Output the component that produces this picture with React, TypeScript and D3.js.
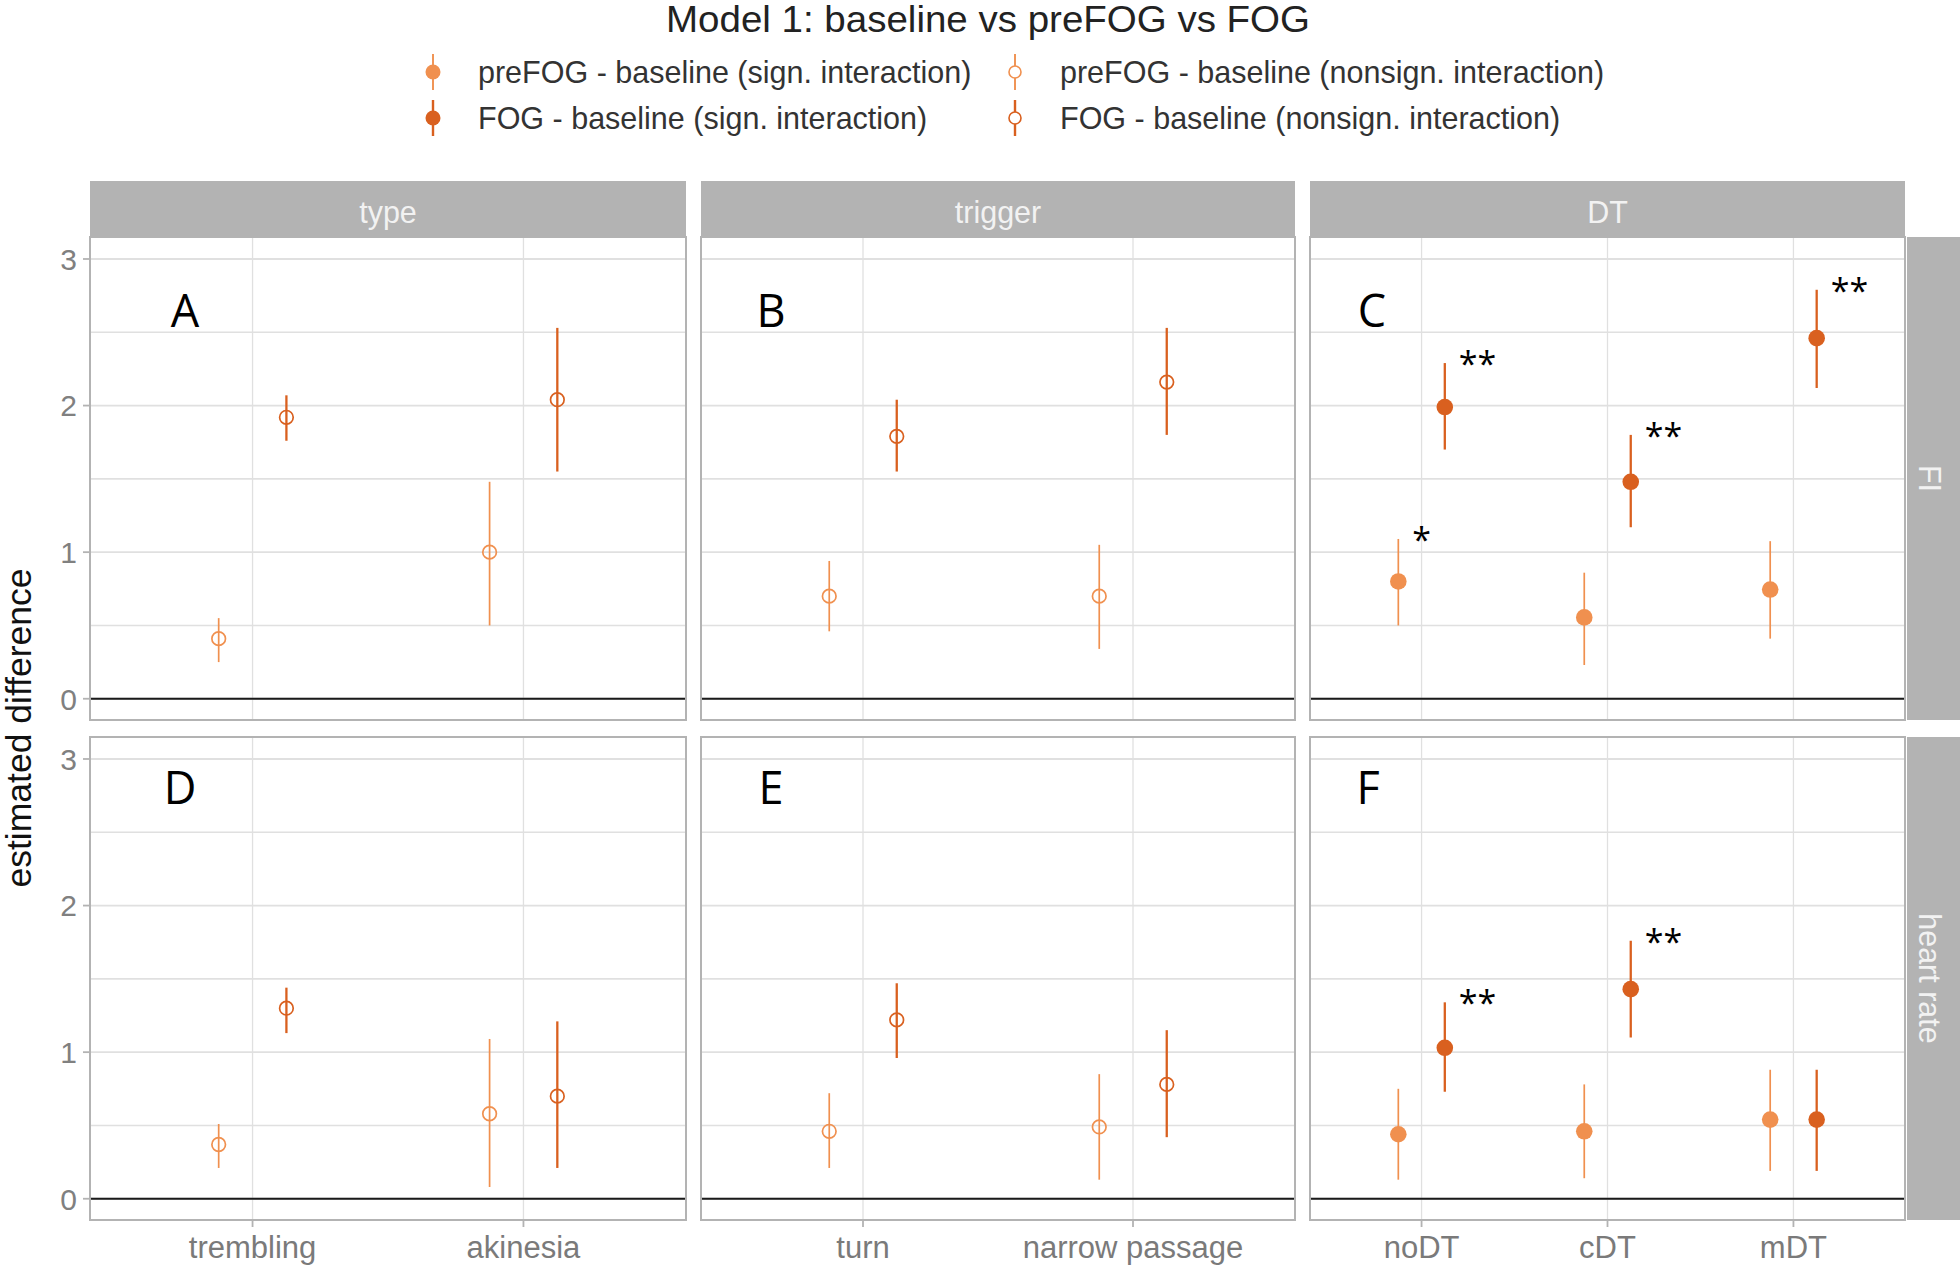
import React from "react";
import * as d3 from "d3";

// ---------- data ----------
const chartTitle = "Model 1: baseline vs preFOG vs FOG";
const facetNames = ["type", "trigger", "DT"];
const measureNames = ["FI", "heart rate"];
const typeCategories = ["trembling", "akinesia"];
const triggerCategories = ["turn", "narrow passage"];
const dtCategories = ["noDT", "cDT", "mDT"];
const yTicks = [0, 1, 2, 3];
const yMinorTicks = [0.5, 1.5, 2.5];
const panelLetters = ["A", "B", "C", "D", "E", "F"];
const legendLabels = [
  "preFOG - baseline (sign. interaction)",
  "FOG - baseline (sign. interaction)",
  "preFOG - baseline (nonsign. interaction)",
  "FOG - baseline (nonsign. interaction)",
];

// [estimate, lower, upper]
const fiTypePreFOG = [[0.41, 0.25, 0.55], [1.0, 0.5, 1.48]];
const fiTypeFOG = [[1.92, 1.76, 2.07], [2.04, 1.55, 2.53]];
const fiTriggerPreFOG = [[0.7, 0.46, 0.94], [0.7, 0.34, 1.05]];
const fiTriggerFOG = [[1.79, 1.55, 2.04], [2.16, 1.8, 2.53]];
const fiDtPreFOG = [[0.8, 0.5, 1.09], [0.555, 0.23, 0.86], [0.745, 0.41, 1.075]];
const fiDtFOG = [[1.99, 1.7, 2.29], [1.48, 1.17, 1.8], [2.46, 2.12, 2.79]];
const hrTypePreFOG = [[0.37, 0.21, 0.51], [0.58, 0.08, 1.09]];
const hrTypeFOG = [[1.3, 1.13, 1.44], [0.7, 0.21, 1.21]];
const hrTriggerPreFOG = [[0.46, 0.21, 0.72], [0.49, 0.13, 0.85]];
const hrTriggerFOG = [[1.22, 0.96, 1.47], [0.78, 0.42, 1.15]];
const hrDtPreFOG = [[0.44, 0.13, 0.75], [0.46, 0.14, 0.78], [0.54, 0.19, 0.88]];
const hrDtFOG = [[1.03, 0.73, 1.34], [1.43, 1.1, 1.76], [0.54, 0.19, 0.88]];

const fiDtPreStars = ["*", "", ""];
const fiDtFogStars = ["**", "**", "**"];
const hrDtPreStars = ["", "", ""];
const hrDtFogStars = ["**", "**", ""];
const noStars = ["", "", ""];

// ---------- styling ----------
const W = 1960;
const H = 1267;
const PRE_COL = "#F0904F";
const FOG_COL = "#D9601F";
const colX = [[90, 686], [701, 1295], [1310, 1905]];
const rowY = [[237, 720], [737, 1220]];
const stripTop = 181;
const rightStripX = 1907;
const rightStripW = 56;
const letterDx = [[95, 70, 62], [90, 70, 58]];
const letterBase = [90, 67];
const FONT = "'Liberation Sans', Arial, sans-serif";
const FONT2 = "'Open Sans', 'Noto Sans', sans-serif";

type Panel = {
  row: number;
  col: number;
  cats: string[];
  pre: number[][];
  fog: number[][];
  sig: boolean;
  preStars: string[];
  fogStars: string[];
};

const panels: Panel[] = [
  { row: 0, col: 0, cats: typeCategories, pre: fiTypePreFOG, fog: fiTypeFOG, sig: false, preStars: noStars, fogStars: noStars },
  { row: 0, col: 1, cats: triggerCategories, pre: fiTriggerPreFOG, fog: fiTriggerFOG, sig: false, preStars: noStars, fogStars: noStars },
  { row: 0, col: 2, cats: dtCategories, pre: fiDtPreFOG, fog: fiDtFOG, sig: true, preStars: fiDtPreStars, fogStars: fiDtFogStars },
  { row: 1, col: 0, cats: typeCategories, pre: hrTypePreFOG, fog: hrTypeFOG, sig: false, preStars: noStars, fogStars: noStars },
  { row: 1, col: 1, cats: triggerCategories, pre: hrTriggerPreFOG, fog: hrTriggerFOG, sig: false, preStars: noStars, fogStars: noStars },
  { row: 1, col: 2, cats: dtCategories, pre: hrDtPreFOG, fog: hrDtFOG, sig: true, preStars: hrDtPreStars, fogStars: hrDtFogStars },
];

function PanelView({ p, idx }: { p: Panel; idx: number }) {
  const [x0, x1] = colX[p.col];
  const [y0, y1] = rowY[p.row];
  const x = d3.scalePoint<string>().domain(p.cats).range([x0, x1]).padding(0.6);
  const y = d3.scaleLinear().domain([-0.145, 3.15]).range([y1, y0]);
  const dodge = x.step() * 0.125;
  const series = [
    { data: p.pre, color: PRE_COL, off: -dodge, lw: 1.7, stars: p.preStars },
    { data: p.fog, color: FOG_COL, off: dodge, lw: 2.3, stars: p.fogStars },
  ];
  return (
    <g>
      <rect x={x0} y={y0} width={x1 - x0} height={y1 - y0} fill="#fff" />
      {yMinorTicks.map((t) => (
        <line key={"m" + t} x1={x0} x2={x1} y1={y(t)} y2={y(t)} stroke="#e0e0e0" strokeWidth={1.6} />
      ))}
      {yTicks.map((t) => (
        <line key={"M" + t} x1={x0} x2={x1} y1={y(t)} y2={y(t)} stroke="#e0e0e0" strokeWidth={1.8} />
      ))}
      {p.cats.map((c) => (
        <line key={"v" + c} x1={x(c)} x2={x(c)} y1={y0} y2={y1} stroke="#e0e0e0" strokeWidth={1.3} />
      ))}
      <line x1={x0} x2={x1} y1={y(0)} y2={y(0)} stroke="#1a1a1a" strokeWidth={2} />
      {series.map((s, si) =>
        s.data.map((d, i) => {
          const cx = (x(p.cats[i]) as number) + s.off;
          return (
            <g key={si + "-" + i}>
              <line x1={cx} x2={cx} y1={y(d[1])} y2={y(d[2])} stroke={s.color} strokeWidth={s.lw} />
              {p.sig ? (
                <circle cx={cx} cy={y(d[0])} r={8.3} fill={s.color} />
              ) : (
                <circle cx={cx} cy={y(d[0])} r={6.8} fill="none" stroke={s.color} strokeWidth={1.7} />
              )}
              {s.stars[i] ? (
                <text x={cx + 14} y={y(d[2]) + 13} fontFamily={FONT2} fontSize={34} fill="#000">
                  {s.stars[i]}
                </text>
              ) : null}
            </g>
          );
        })
      )}
      <rect x={x0} y={y0} width={x1 - x0} height={y1 - y0} fill="none" stroke="#b3b3b3" strokeWidth={2} />
      <text x={x0 + letterDx[p.row][p.col]} y={y0 + letterBase[p.row]} fontFamily={FONT2} fontSize={45} textAnchor="middle" fill="#000">
        {panelLetters[idx]}
      </text>
      {p.col === 0 &&
        yTicks.map((t) => (
          <g key={"yt" + t}>
            <line x1={x0 - 7} x2={x0} y1={y(t)} y2={y(t)} stroke="#b3b3b3" strokeWidth={1.8} />
            <text x={x0 - 13} y={y(t)} dy="0.36em" textAnchor="end" fontFamily={FONT} fontSize={30} fill="#808080">
              {t}
            </text>
          </g>
        ))}
      {p.row === 1 &&
        p.cats.map((c) => (
          <g key={"xt" + c}>
            <line x1={x(c)} x2={x(c)} y1={y1} y2={y1 + 7} stroke="#b3b3b3" strokeWidth={1.8} />
            <text x={x(c)} y={y1 + 38} textAnchor="middle" fontFamily={FONT} fontSize={31} fill="#7a7a7a">
              {c}
            </text>
          </g>
        ))}
    </g>
  );
}

export default function App() {
  const legendItems = [
    { x: 433, y: 72, color: PRE_COL, filled: true, lw: 1.9 },
    { x: 433, y: 118, color: FOG_COL, filled: true, lw: 2.4 },
    { x: 1015, y: 72, color: PRE_COL, filled: false, lw: 1.9 },
    { x: 1015, y: 118, color: FOG_COL, filled: false, lw: 2.4 },
  ];
  return (
    <svg width={W} height={H} style={{ position: "absolute", left: 0, top: 0, background: "#fff" }}>
      <rect x={0} y={0} width={W} height={H} fill="#fff" />
      <text x={988} y={32} textAnchor="middle" fontFamily={FONT} fontSize={36} fill="#222" textLength={644} lengthAdjust="spacingAndGlyphs">
        {chartTitle}
      </text>
      {legendItems.map((l, i) => (
        <g key={"lg" + i}>
          <line x1={l.x} x2={l.x} y1={l.y - 18} y2={l.y + 18} stroke={l.color} strokeWidth={l.lw} />
          {l.filled ? (
            <circle cx={l.x} cy={l.y} r={7.5} fill={l.color} />
          ) : (
            <circle cx={l.x} cy={l.y} r={6} fill="#fff" stroke={l.color} strokeWidth={1.6} />
          )}
          <text x={l.x + 45} y={l.y} dy="0.36em" fontFamily={FONT} fontSize={30.5} fill="#333">
            {legendLabels[i]}
          </text>
        </g>
      ))}
      {facetNames.map((f, i) => (
        <g key={"fs" + f}>
          <rect x={colX[i][0]} y={stripTop} width={colX[i][1] - colX[i][0]} height={rowY[0][0] - stripTop} fill="#b3b3b3" />
          <text x={(colX[i][0] + colX[i][1]) / 2} y={(stripTop + rowY[0][0]) / 2 + 3} dy="0.36em" textAnchor="middle" fontFamily={FONT} fontSize={30.5} fill="#f2f2f2">
            {f}
          </text>
        </g>
      ))}
      {measureNames.map((m, i) => {
        const cy = (rowY[i][0] + rowY[i][1]) / 2;
        const cx = rightStripX + 23;
        return (
          <g key={"ms" + m}>
            <rect x={rightStripX} y={rowY[i][0]} width={rightStripW} height={rowY[i][1] - rowY[i][0]} fill="#b3b3b3" />
            <text x={cx} y={cy} dy="0.36em" textAnchor="middle" fontFamily={FONT} fontSize={30.5} fill="#f2f2f2" transform={`rotate(90 ${cx} ${cy})`}>
              {m}
            </text>
          </g>
        );
      })}
      {panels.map((p, i) => (
        <PanelView key={i} p={p} idx={i} />
      ))}
      <text x={18} y={728} textAnchor="middle" dy="0.36em" fontFamily={FONT} fontSize={35.5} fill="#111" transform="rotate(-90 18 728)">
        estimated difference
      </text>
    </svg>
  );
}
